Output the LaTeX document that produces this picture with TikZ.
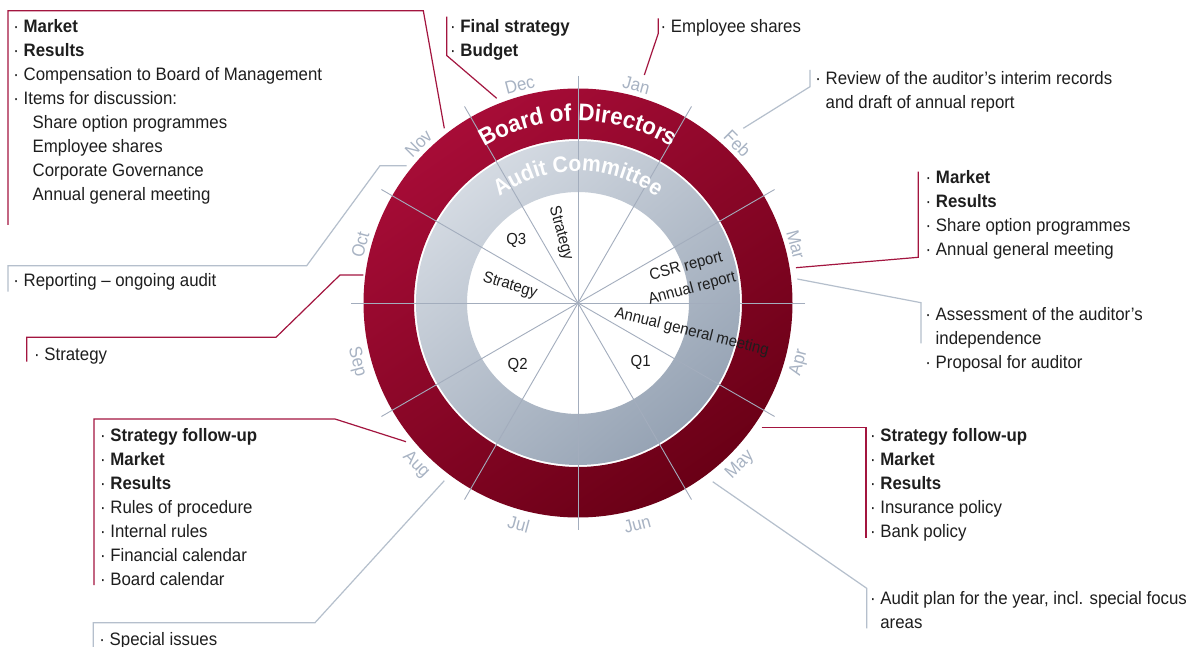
\documentclass[tikz,border=0pt]{standalone}
\usepackage{fontspec}
\setmainfont{Liberation Sans}[FakeStretch=0.935]
\usetikzlibrary{decorations.text}
\definecolor{ringredA}{HTML}{A70C37}
\definecolor{ringredB}{HTML}{6A0016}
\definecolor{ringgrayA}{HTML}{D4DAE2}
\definecolor{ringgrayB}{HTML}{96A3B4}
\definecolor{linered}{HTML}{A3153F}
\definecolor{linegray}{HTML}{B5BFCC}
\definecolor{spokegray}{HTML}{A3ADBD}
\definecolor{monthgray}{HTML}{A8B3C3}
\definecolor{txt}{HTML}{1E1E1E}
\newcommand{\itemline}[1]{\hbox{·\ #1}}
\newcommand{\itembold}[1]{\hbox{·\ \textbf{#1}}}
\newcommand{\itemcont}[1]{\hbox{\hphantom{·\ }#1}}
\begin{document}
\begin{tikzpicture}[x=1pt,y=1pt,
  listtext/.style={anchor=base west, inner sep=0pt, text=txt, font=\fontsize{18}{24}\selectfont},
  innertext/.style={inner sep=0pt, text=txt, font=\fontsize{16}{23}\selectfont},
  monthlabel/.style={inner sep=0pt, text=monthgray, font=\fontsize{18}{20}\selectfont},
  redline/.style={draw=linered, line width=1.2pt},
  grayline/.style={draw=linegray, line width=1.2pt},
  spoke/.style={draw=spokegray, line width=0.9pt}]
\fill[white] (0,-647) rectangle (1200,0);
\useasboundingbox (0,-647) rectangle (1200,0);
\coordinate (c) at (578,-303);

% rings
\shade[even odd rule, top color=ringredA, bottom color=ringredB, shading angle=35]
  (c) circle[radius=214.5] (c) circle[radius=164];
\shade[even odd rule, top color=ringgrayA, bottom color=ringgrayB, shading angle=40]
  (c) circle[radius=162] (c) circle[radius=111];

% spokes
\foreach \a in {0,30,...,150}{
  \coordinate (s\a) at ([shift={(\a:227)}]c);
  \coordinate (t\a) at ([shift={(\a+180:227)}]c);
  \draw[spoke] (s\a) -- (t\a);
}

% ring titles
\path[decorate, decoration={text along path, text align=center, text color=white,
  text={|\fontsize{24}{24}\selectfont\bfseries|Board of Directors}}]
  ([shift={(125:182)}]c) arc[start angle=125, end angle=55, radius=182];
\path[decorate, decoration={text along path, text align=center, text color=white,
  text={|\fontsize{22.5}{24}\selectfont\bfseries|Audit Committee}}]
  ([shift={(135:132)}]c) arc[start angle=135, end angle=45, radius=132];

% months
\foreach \m/\a in {Jan/75,Feb/45,Mar/15,Oct/165,Nov/135,Dec/105}{
  \node[monthlabel, rotate=\a-90] (m\m) at ([shift={(\a:225.5)}]c) {\m};
}
\foreach \m/\a in {Apr/-15,May/-45,Jun/-75,Jul/-105,Aug/-135,Sep/-165}{
  \node[monthlabel, rotate=\a+90] (m\m) at ([shift={(\a:229)}]c) {\m};
}

% inner texts
\node[innertext] (q3) at (516.3,-240) {Q3};
\node[innertext, rotate=-75] (stratA) at (560.7,-233.3) {Strategy};
\node[innertext, rotate=-17] (stratB) at (510,-285.8) {Strategy};
\node[innertext, rotate=15, align=center] (csr) at (689.2,-278) {CSR report\\Annual report};
\node[innertext, rotate=-14] (agm) at (691.7,-332.5) {Annual general meeting};
\node[innertext] (q1) at (640.7,-362.7) {Q1};
\node[innertext] (q2) at (517.7,-365.7) {Q2};

% text blocks
\node[listtext] (bnov) at (13.2,-32.3) {\vtop{\itembold{Market}\itembold{Results}%
  \itemline{Compensation to Board of Management}\itemline{Items for discussion:}%
  \itemcont{\kern9pt Share option programmes}\itemcont{\kern9pt Employee shares}%
  \itemcont{\kern9pt Corporate Governance}\itemcont{\kern9pt Annual general meeting}}};
\node[listtext] (bdec) at (449.9,-32.3) {\vtop{\itembold{Final strategy}\itembold{Budget}}};
\node[listtext] (bjan) at (660.5,-32.3) {\vtop{\itemline{Employee shares}}};
\node[listtext] (bfeb) at (815.2,-84.3) {\vtop{\itemline{Review of the auditor’s interim records}%
  \itemcont{and draft of annual report}}};
\node[listtext] (bmar) at (925.5,-184) {\vtop{\itembold{Market}\itembold{Results}%
  \itemline{Share option programmes}\itemline{Annual general meeting}}};
\node[listtext] (bapr) at (925.2,-320) {\vtop{\itemline{Assessment of the auditor’s}%
  \itemcont{independence}\itemline{Proposal for auditor}}};
\node[listtext] (bmay) at (869.9,-441) {\vtop{\itembold{Strategy follow-up}\itembold{Market}%
  \itembold{Results}\itemline{Insurance policy}\itemline{Bank policy}}};
\node[listtext] (bjun) at (869.9,-604) {\vtop{\itemline{Audit plan for the year, incl. special focus}%
  \itemcont{areas}}};
\node[listtext] (baug) at (99.9,-441) {\vtop{\itembold{Strategy follow-up}\itembold{Market}%
  \itembold{Results}\itemline{Rules of procedure}\itemline{Internal rules}%
  \itemline{Financial calendar}\itemline{Board calendar}}};
\node[listtext] (bsep) at (99.2,-645) {\vtop{\itemline{Special issues}}};
\node[listtext] (boct) at (13.2,-286.7) {\vtop{\itemline{Reporting – ongoing audit}}};
\node[listtext] (bstr) at (33.9,-360) {\vtop{\itemline{Strategy}}};

% connector end points
\coordinate (eNov) at (444.3,-128.3);
\coordinate (eDec) at (496.7,-98.3);
\coordinate (eJan) at (644.3,-75);
\coordinate (eFeb) at (743.3,-128.3);
\coordinate (eMar) at (796,-267.7);
\coordinate (eApr) at (797.3,-279);
\coordinate (eMay) at (761.7,-427.3);
\coordinate (eJun) at (712.7,-481.7);
\coordinate (eAug) at (406,-441.7);
\coordinate (eSep) at (444.3,-480.7);
\coordinate (eOctA) at (406.7,-165.7);
\coordinate (eOctB) at (363.3,-275);

% red connectors
\draw[redline] (8,-225) -- (8,-10.7) -- (423.3,-10.7) -- (eNov);
\draw[redline] (446.7,-16.7) -- (446.7,-55.5) -- (eDec);
\draw[redline] (658.3,-18.3) -- (658.3,-33.3) -- (eJan);
\draw[redline] (918.3,-171.7) -- (918.3,-257.3) -- (eMar);
\draw[redline] (eMay) -- (866,-427.3) -- (866,-538.3);
\draw[redline] (94,-585) -- (94,-419) -- (335,-419) -- (eAug);
\draw[redline] (eOctB) -- (340,-275) -- (276,-337.3) -- (26.7,-337.3) -- (26.7,-361.7);

% gray connectors
\draw[grayline] (810,-70) -- (810,-86.7) -- (eFeb);
\draw[grayline] (eApr) -- (921,-302.7) -- (921,-343.3);
\draw[grayline] (eJun) -- (866.7,-588.3) -- (866.7,-628.3);
\draw[grayline] (eSep) -- (315,-622.7) -- (93.3,-622.7) -- (93.3,-647);
\draw[grayline] (eOctA) -- (380,-165.7) -- (306.7,-265.7) -- (8,-265.7) -- (8,-291.7);
\end{tikzpicture}
\end{document}
